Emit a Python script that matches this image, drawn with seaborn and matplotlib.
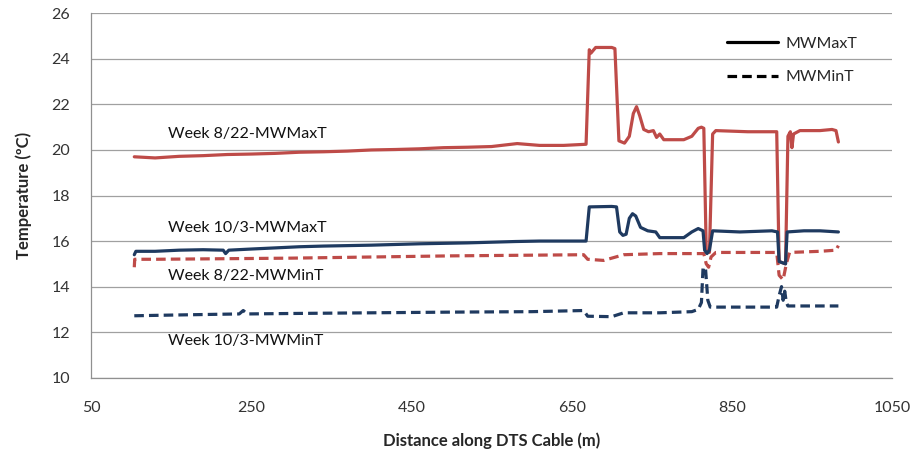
import pandas as pd
import matplotlib.pyplot as plt
import seaborn as sns
from matplotlib.lines import Line2D

# Week 8/22 - MWMaxT
dist_822_max = [104, 130, 160, 190, 220, 250, 280, 310, 340, 370, 400, 430, 460, 490, 520, 550,
                582, 610, 640, 668, 672, 674, 680, 700, 704, 709, 716, 722, 727, 731, 735, 740,
                746, 752, 756, 760, 765, 790, 800, 808, 812, 815, 818, 822, 826, 830, 870, 906,
                909, 917, 920, 923, 925, 927, 935, 960, 975, 980, 983]
temp_822_max = [19.7, 19.65, 19.72, 19.75, 19.8, 19.82, 19.85, 19.9, 19.92, 19.95, 20.0, 20.02, 20.05, 20.1, 20.12, 20.15,
                20.28, 20.2, 20.2, 20.25, 24.4, 24.25, 24.5, 24.5, 24.45, 20.4, 20.3, 20.6, 21.6, 21.9, 21.5, 20.9,
                20.8, 20.85, 20.55, 20.7, 20.45, 20.45, 20.6, 20.95, 21.0, 20.95, 15.6, 15.5, 20.7, 20.85, 20.8, 20.8,
                15.1, 15.0, 20.6, 20.8, 20.1, 20.7, 20.85, 20.85, 20.9, 20.85, 20.35]

# Week 10/3 - MWMaxT
dist_103_max = [104, 106, 130, 160, 190, 215, 218, 222, 250, 280, 310, 340, 370, 400, 430, 460, 490,
                520, 550, 580, 610, 640, 668, 672, 700, 706, 710, 714, 718, 722, 726, 730, 736, 745,
                755, 760, 790, 800, 808, 814, 816, 819, 822, 826, 860, 900, 907, 909, 917, 919, 940,
                960, 983]
temp_103_max = [15.4, 15.55, 15.55, 15.6, 15.62, 15.6, 15.45, 15.6, 15.65, 15.7, 15.75, 15.78, 15.8, 15.82, 15.85, 15.88, 15.9,
                15.92, 15.95, 15.98, 16.0, 16.0, 16.0, 17.5, 17.52, 17.5, 16.4, 16.25, 16.3, 17.0, 17.2, 17.1, 16.6, 16.45,
                16.4, 16.15, 16.15, 16.4, 16.55, 16.45, 15.6, 15.45, 15.6, 16.45, 16.4, 16.45, 16.4, 15.1, 15.0, 16.4, 16.45,
                16.45, 16.4]

# Week 8/22 - MWMinT
dist_822_min = [104, 104.5, 130, 200, 300, 400, 500, 600, 665, 670, 690, 700, 715, 760, 815, 818,
                821, 824, 830, 906, 909, 914, 918, 922, 960, 980, 983]
temp_822_min = [14.85, 15.2, 15.2, 15.22, 15.25, 15.3, 15.35, 15.38, 15.4, 15.2, 15.15, 15.25, 15.4, 15.45, 15.45, 15.0,
                14.85, 15.3, 15.5, 15.5, 14.5, 14.3, 15.0, 15.5, 15.55, 15.6, 15.8]

# Week 10/3 - MWMinT
dist_103_min = [104, 150, 200, 235, 240, 245, 300, 400, 500, 600, 665, 670, 700, 715, 760, 800, 808,
                812, 814, 817, 820, 823, 860, 906, 909, 912, 914, 916, 918, 920, 960, 983]
temp_103_min = [12.72, 12.75, 12.78, 12.8, 12.95, 12.8, 12.82, 12.85, 12.88, 12.9, 12.95, 12.7, 12.68, 12.85, 12.85, 12.9, 13.0,
                13.3, 14.8, 14.85, 13.4, 13.1, 13.1, 13.1, 13.6, 14.0, 13.4, 13.8, 13.3, 13.15, 13.15, 13.15]

x_ticks = [50, 250, 450, 650, 850, 1050]
y_ticks = [10, 12, 14, 16, 18, 20, 22, 24, 26]

frames = []
for week, stat, d, t in [('8/22', 'MWMaxT', dist_822_max, temp_822_max),
                         ('10/3', 'MWMaxT', dist_103_max, temp_103_max),
                         ('8/22', 'MWMinT', dist_822_min, temp_822_min),
                         ('10/3', 'MWMinT', dist_103_min, temp_103_min)]:
    frames.append(pd.DataFrame({'dist': d, 'temp': t, 'week': week, 'stat': stat}))
df = pd.concat(frames, ignore_index=True)

sns.set_style("white")
plt.rcParams['font.family'] = ['Lato', 'DejaVu Sans']

fig = plt.figure(figsize=(9.14, 4.51), dpi=100)
ax = fig.add_axes([0.0996, 0.1625, 0.8764, 0.808])

colors = {'8/22': '#BE4B48', '10/3': '#1F3A60'}
sns.lineplot(data=df, x='dist', y='temp', hue='week', style='stat', palette=colors,
             dashes={'MWMaxT': '', 'MWMinT': (3, 1.6)}, sort=False, estimator=None,
             linewidth=2.3, legend=False, ax=ax)

ax.set_xlim(50, 1050)
ax.set_ylim(10, 26)
ax.set_xticks(x_ticks)
ax.set_yticks(y_ticks)
ax.tick_params(axis='both', labelsize=11.5, colors='#333333', length=5, width=0.8,
               direction='out', color='#909090')
ax.tick_params(axis='x', pad=12)
ax.tick_params(axis='y', pad=10)
ax.grid(axis='y', color='#A0A0A0', linewidth=0.9)
ax.grid(axis='x', visible=False)
for s in ['top', 'right']:
    ax.spines[s].set_visible(False)
for s in ['left', 'bottom']:
    ax.spines[s].set_color('#909090')
    ax.spines[s].set_linewidth(0.9)

ax.set_xlabel('Distance along DTS Cable (m)', fontsize=12, fontweight='bold', labelpad=12)
ax.set_ylabel('Temperature (ºC)', fontsize=12, fontweight='bold', labelpad=14)

ann_kw = dict(fontsize=11.5, color='#111111', va='center', ha='left')
ax.text(146, 20.68, 'Week 8/22-MWMaxT', **ann_kw)
ax.text(146, 16.57, 'Week 10/3-MWMaxT', **ann_kw)
ax.text(146, 14.47, 'Week 8/22-MWMinT', **ann_kw)
ax.text(146, 11.6, 'Week 10/3-MWMinT', **ann_kw)

handles = [Line2D([], [], color='black', lw=2.3),
           Line2D([], [], color='black', lw=2.3, dashes=(3, 1.6))]
ax.legend(handles, ['MWMaxT', 'MWMinT'], loc='upper right', bbox_to_anchor=(0.975, 0.975),
          frameon=False, fontsize=11.5, handlelength=3.2, handletextpad=0.5, labelspacing=1.2)

plt.savefig('out.png', dpi=100)
